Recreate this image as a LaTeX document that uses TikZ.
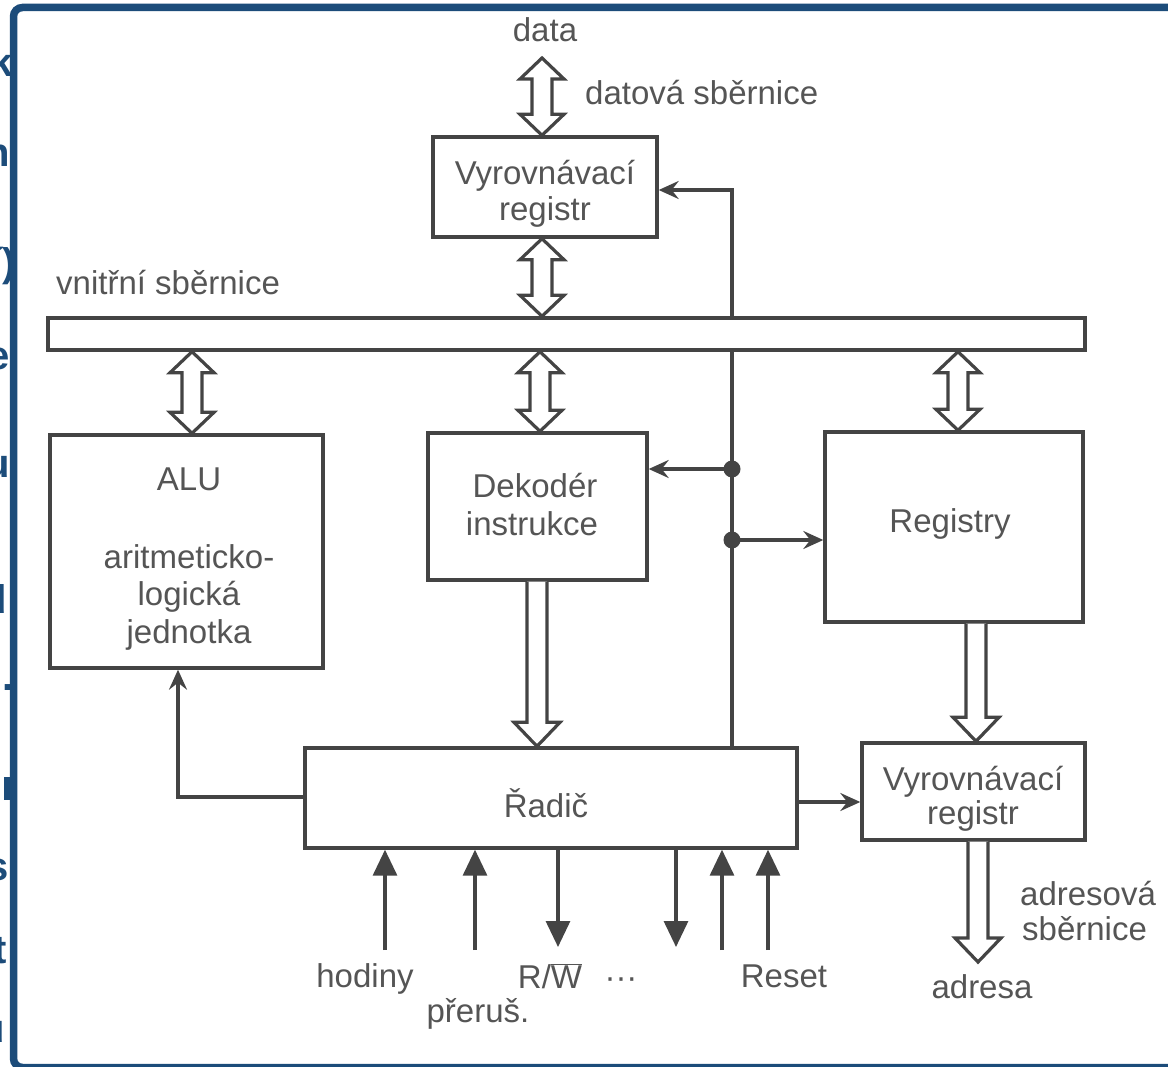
\documentclass[tikz,border=0pt]{standalone}
\usepackage{fontspec}
\setmainfont{Liberation Sans}
\usetikzlibrary{arrows.meta,calc}
\definecolor{lc}{RGB}{68,68,68}
\definecolor{tc}{RGB}{85,85,85}
\definecolor{fb}{RGB}{28,76,122}
\newcommand\dblarrow[2]{%
  \draw[hol] let \p1=#1, \p2=#2 in
  (\x1,\y1) -- (\x1+22pt,\y1-21pt) -- (\x1+10pt,\y1-21pt) -- (\x1+10pt,\y2+21pt)
  -- (\x1+22pt,\y2+21pt) -- (\x1,\y2) -- (\x1-22pt,\y2+21pt) -- (\x1-10pt,\y2+21pt)
  -- (\x1-10pt,\y1-21pt) -- (\x1-22pt,\y1-21pt) -- cycle;}
\newcommand\hdownarrow[2]{%
  \draw[hol] let \p1=#1, \p2=#2 in
  (\x1-10pt,\y1) -- (\x1-10pt,\y2+24pt) -- (\x1-23pt,\y2+24pt) -- (\x1,\y2)
  -- (\x1+23pt,\y2+24pt) -- (\x1+10pt,\y2+24pt) -- (\x1+10pt,\y1);}
\begin{document}
\begin{tikzpicture}[x=1pt,y=-1pt,
  box/.style={draw=lc,line width=3.4pt,fill=white,inner sep=0pt},
  lbl/.style={text=tc,inner sep=0pt,anchor=base,font=\fontsize{33}{39}\selectfont},
  lbll/.style={lbl,anchor=base west},
  hol/.style={draw=lc,line width=3.2pt,fill=white,line join=miter},
  wire/.style={draw=lc,line width=3.2pt},
  tri/.style={-{Triangle[length=26pt,width=24pt]}},
  stl/.style={-{Stealth[length=20pt,width=18pt,inset=7pt]}},
  frag/.style={text=fb,inner sep=0pt,anchor=base east,font=\fontsize{40}{42}\selectfont\bfseries}
]
\useasboundingbox (0,0) rectangle (1168,1067);
\fill[white] (0,0) rectangle (1168,1067);

% fragments of background slide text
\begin{scope}
\clip (0,0) rectangle (11,1067);
\node[frag] (f1) at (13,77) {k};
\node[frag] (f2) at (10,167) {n};
\node[frag] (f3) at (16,277) {í)};
\node[frag] (f4) at (10,370) {e};
\node[frag] (f5) at (10,477) {u};
\node[frag] (f6) at (7,613) {d};
\node[frag] (f7) at (14,690) {.};
\fill[fb] (4,777) rectangle (14,800);
\node[frag] (f8) at (9,880) {s};
\node[frag] (f9) at (7,963) {t};
\node[frag] (f10) at (5,1042) {u};
\end{scope}

% helper coordinates
\coordinate (vx) at (732,190);
\coordinate (d1) at (732,469);
\coordinate (d2) at (732,540);
\coordinate (ac) at (178,797);
\coordinate (rr) at (797,802);
\coordinate (xa) at (192,0);
\coordinate (xd) at (540,0);
\coordinate (xr) at (958,0);
\coordinate (xk) at (537,0);
\coordinate (xg) at (976,0);
\coordinate (dtop) at (542,58);
\coordinate (adr) at (978,962);

% boxes
\node[box,minimum width=224pt,minimum height=100pt] (topreg) at (545,187) {};
\node[box,minimum width=273pt,minimum height=233pt] (alu) at (186.5,551.5) {};
\node[box,minimum width=219pt,minimum height=147pt] (dek) at (537.5,506.5) {};
\node[box,minimum width=258pt,minimum height=190pt] (reg) at (954,527) {};
\node[box,minimum width=492pt,minimum height=100pt] (radic) at (551,798) {};
\node[box,minimum width=223pt,minimum height=97pt] (botreg) at (973.5,791.5) {};

% long vertical control line (behind the bus)
\draw[wire,stl] (vx |- radic.north) -- (vx) -- (topreg.east |- vx);
\draw[wire,stl] (d1) -- (dek.east |- d1);
\draw[wire,stl] (d2) -- (reg.west |- d2);
\fill[lc] (d1) circle (8.5pt) (d2) circle (8.5pt);

% internal bus
\node[box,minimum width=1037pt,minimum height=32pt] (bus) at (566.5,334) {};

% hollow bus arrows
\dblarrow{(dtop)}{(topreg.north)}
\dblarrow{(topreg.south -| dtop)}{(bus.north -| dtop)}
\dblarrow{(bus.south -| xa)}{(alu.north -| xa)}
\dblarrow{(bus.south -| xd)}{(dek.north -| xd)}
\dblarrow{(bus.south -| xr)}{(reg.north -| xr)}
\hdownarrow{(dek.south -| xk)}{(radic.north -| xk)}
\hdownarrow{(reg.south -| xg)}{(botreg.north -| xg)}
\hdownarrow{(botreg.south -| adr)}{(adr)}

% control connections
\draw[wire,stl] (radic.west |- ac) -- (ac) -- (ac |- alu.south);
\draw[wire,stl] (radic.east |- rr) -- (botreg.west |- rr);

% control signals below the controller
\coordinate (s1) at (385,950);
\coordinate (s2) at (475,950);
\coordinate (s3) at (558,947);
\coordinate (s4) at (676,947);
\coordinate (s5) at (722,950);
\coordinate (s6) at (768,950);
\draw[wire,tri] (s1) -- (s1 |- radic.south);
\draw[wire,tri] (s2) -- (s2 |- radic.south);
\draw[wire,tri] (s3 |- radic.south) -- (s3);
\draw[wire,tri] (s4 |- radic.south) -- (s4);
\draw[wire,tri] (s5) -- (s5 |- radic.south);
\draw[wire,tri] (s6) -- (s6 |- radic.south);

% texts
\node[lbl] (tdata) at (545,42) {data};
\node[lbll] (tdsb) at (585,105) {datová sběrnice};
\node[lbl] (tr1) at (545,185) {Vyrovnávací};
\node[lbl] (tr2) at (545,221) {registr};
\node[lbll] (tvs) at (56,295) {vnitřní sběrnice};
\node[lbl] (talu) at (189,490) {ALU};
\node[lbl] (ta1) at (189,568) {aritmeticko-};
\node[lbl] (ta2) at (189,605) {logická};
\node[lbl] (ta3) at (189,643) {jednotka};
\node[lbl] (td1) at (535,497) {Dekodér};
\node[lbl] (td2) at (532,535) {instrukce};
\node[lbl] (treg) at (950,532) {Registry};
\node[lbl] (trad) at (546,817) {Řadič};
\node[lbl] (tb1) at (973,790) {Vyrovnávací};
\node[lbl] (tb2) at (973,824) {registr};
\node[lbll] (tas1) at (1020,905) {adresová};
\node[lbll] (tas2) at (1022,940) {sběrnice};
\node[lbl] (tadr) at (982,998) {adresa};
\node[lbl] (thod) at (365,987) {hodiny};
\node[lbl] (tpre) at (478,1022) {přeruš.};
\node[lbl] (trw) at (550,988) {R/$\overline{\mbox{W}}$};
\node[lbl] (tdots) at (621,988) {···};
\node[lbl] (tres) at (784,987) {Reset};

% slide frame
\begin{scope}
\clip (0,0) rectangle (1168,1067);
\draw[fb,line width=7.5pt,rounded corners=9pt] (1190,7.5) -- (13.5,7.5) -- (13.5,1067.5) -- (1190,1067.5);
\end{scope}
\end{tikzpicture}
\end{document}
